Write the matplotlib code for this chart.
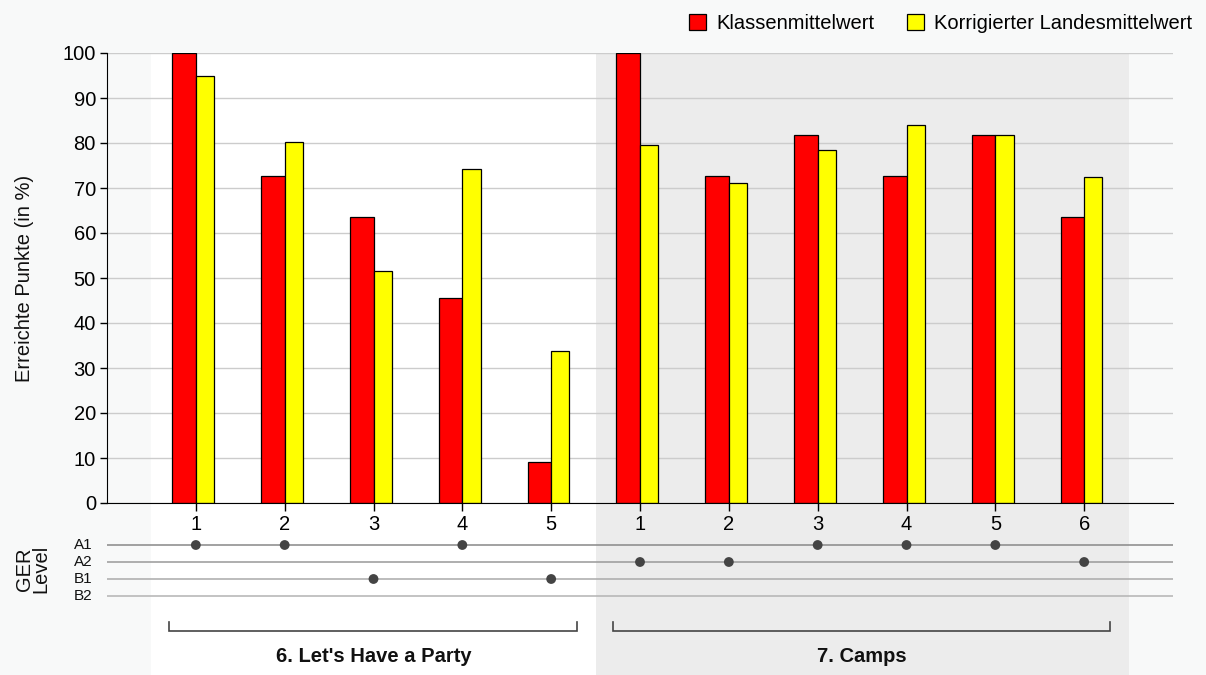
import matplotlib
matplotlib.use("Agg")
import matplotlib.pyplot as plt
from matplotlib.patches import Patch
import numpy as np

plt.rcParams['font.family'] = ['Liberation Sans', 'DejaVu Sans']

units = ["6. Let's Have a Party", "7. Camps"]
items_party = [1, 2, 3, 4, 5]
items_camps = [1, 2, 3, 4, 5, 6]
class_party = [100, 72.7, 63.6, 45.5, 9.1]
state_party = [94.8, 80.3, 51.5, 74.2, 33.7]
class_camps = [100, 72.7, 81.8, 72.7, 81.8, 63.6]
state_camps = [79.6, 71.1, 78.4, 84.0, 81.8, 72.4]
levels_party = ["A1", "A1", "B1", "A1", "B1"]
levels_camps = ["A2", "A2", "A1", "A1", "A1", "A2"]
ger_levels = ["A1", "A2", "B1", "B2"]
series_names = ["Klassenmittelwert", "Korrigierter Landesmittelwert"]
yticks = list(range(0, 101, 10))

FS = 14.5
W, H = 1206, 675
fig = plt.figure(figsize=(W / 100, H / 100), dpi=100)
fig.patch.set_facecolor('#f8f9f9')

L, R = 107, 1173
y0, y100 = 503, 53
ax2 = fig.add_axes([L / W, 0, (R - L) / W, (H - y0) / H])
ax = fig.add_axes([L / W, (H - y0) / H, (R - L) / W, (y0 - y100) / H])
ax.set_zorder(2)
ax2.set_zorder(1)
for a in (ax, ax2):
    a.set_facecolor('none')

groups = [
    (items_party, class_party, state_party, levels_party),
    (items_camps, class_camps, state_camps, levels_camps),
]
panel_colors = ['#ffffff', '#ececec']

xs_all, labels_all, cls_all, st_all, lv_all = [], [], [], [], []
spans = []
pos = 0
for items, c, s, lv in groups:
    xs = list(range(pos, pos + len(items)))
    spans.append((xs[0], xs[-1]))
    xs_all += xs
    labels_all += [str(i) for i in items]
    cls_all += c
    st_all += s
    lv_all += lv
    pos += len(items)
xs_all = np.array(xs_all, dtype=float)

for a in (ax, ax2):
    a.set_xlim(-1, 11)
ax.set_ylim(0, 100)
ax2.set_ylim(172, 0)

for (a0, a1), col in zip(spans, panel_colors):
    ax.axvspan(a0 - 0.5, a1 + 0.5, color=col, zorder=0, lw=0)
    ax2.axvspan(a0 - 0.5, a1 + 0.5, color=col, zorder=0, lw=0)

ax.set_yticks(yticks)
ax.yaxis.grid(True, color='#cccccc', lw=1, zorder=0.5)
ax.set_axisbelow(True)

ax.bar(xs_all, cls_all, width=-0.265, align='edge', color='#ff0000',
       edgecolor='black', lw=0.9, zorder=2)
ax.bar(xs_all, st_all, width=0.205, align='edge', color='#ffff00',
       edgecolor='black', lw=0.9, zorder=2)

for sp in ['top', 'right']:
    ax.spines[sp].set_visible(False)
ax.spines['left'].set_color('black')
ax.spines['bottom'].set_color('black')
ax.set_xticks(xs_all)
ax.set_xticklabels(labels_all)
ax.tick_params(axis='x', length=6, width=1, pad=3, labelsize=FS, colors='black')
ax.tick_params(axis='y', length=5, width=1, pad=3, labelsize=FS, colors='black')
ax.set_yticklabels([str(t) for t in yticks])

ax2.axis('off')
level_y = {lvl: 42 + 17 * i for i, lvl in enumerate(ger_levels)}
line_cols = ['#888888', '#999999', '#aaaaaa', '#b3b3b3']
for (lvl, yy), lc in zip(level_y.items(), line_cols):
    ax2.plot([-1, 11], [yy, yy], color=lc, lw=1.1, zorder=1, solid_capstyle='butt')
    ax2.text(-1.16, yy, lvl, ha='right', va='center', fontsize=11, color='#111111')
ax2.scatter(xs_all, [level_y[l] for l in lv_all], s=50, color='#444444', zorder=3,
            edgecolors='none')
ax2.text(-1.84, 66, "GER\nLevel", rotation=90, ha='center', va='center',
         fontsize=FS, linespacing=0.8, color='#111111')

for (a0, a1), name in zip(spans, units):
    bx0, bx1 = a0 - 0.30, a1 + 0.29
    ax2.plot([bx0, bx0, bx1, bx1], [119, 128, 128, 119], color='#444444', lw=1.2,
             solid_joinstyle='miter')
    ax2.text((a0 + a1) / 2, 153, name, ha='center', va='center', fontsize=FS,
             fontweight='bold', color='#111111')

fig.text(25 / W, 1 - 278 / H, "Erreichte Punkte (in %)", rotation=90,
         ha='center', va='center', fontsize=FS, color='#111111')

handles = [Patch(facecolor='#ff0000', edgecolor='black', lw=0.9),
           Patch(facecolor='#ffff00', edgecolor='black', lw=0.9)]
fig.legend(handles, series_names, loc='upper right', ncol=2, frameon=False,
           bbox_to_anchor=(1200 / W, 1 - 6 / H), fontsize=FS,
           handlelength=0.85, handleheight=0.85, handletextpad=0.5,
           columnspacing=1.6, borderaxespad=0)

fig.savefig('out.png', dpi=100, facecolor=fig.get_facecolor())
